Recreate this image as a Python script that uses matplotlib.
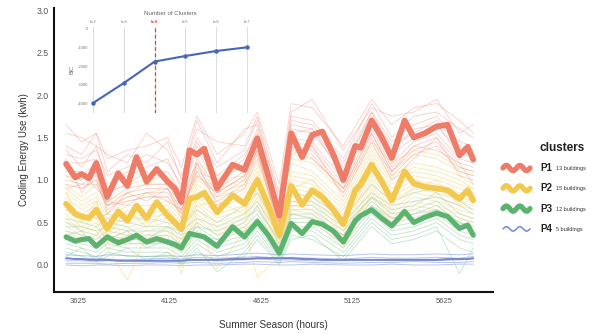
import numpy as np
import matplotlib
matplotlib.use("Agg")
import matplotlib.pyplot as plt

plt.rcParams['font.family'] = ['Liberation Sans', 'DejaVu Sans']

# ---------------- data ----------------
hours = [3560, 3610, 3645, 3685, 3725, 3785, 3845, 3895, 3945, 4000,
         4055, 4115, 4155, 4190, 4235, 4275, 4315, 4385, 4470, 4535,
         4605, 4665, 4725, 4790, 4850, 4905, 4960, 5020, 5075, 5140,
         5170, 5230, 5285, 5340, 5410, 5460, 5520, 5585, 5645, 5710,
         5755, 5785]

p1_mean = [1.19, 1.03, 1.07, 1.02, 1.20, 0.80, 1.08, 0.93, 1.27, 0.98,
           1.13, 0.98, 0.90, 0.74, 1.35, 1.30, 1.37, 0.90, 1.18, 1.12,
           1.49, 1.05, 0.58, 1.55, 1.27, 1.53, 1.57, 1.30, 1.00, 1.40,
           1.38, 1.70, 1.50, 1.26, 1.70, 1.50, 1.55, 1.63, 1.65, 1.29,
           1.39, 1.24]
p2_mean = [0.72, 0.60, 0.57, 0.55, 0.65, 0.43, 0.63, 0.52, 0.70, 0.55,
           0.74, 0.58, 0.50, 0.42, 0.78, 0.80, 0.85, 0.62, 0.82, 0.72,
           1.00, 0.70, 0.35, 0.93, 0.71, 0.88, 0.80, 0.65, 0.48, 0.88,
           0.95, 1.18, 0.98, 0.76, 1.10, 0.96, 0.92, 0.90, 0.88, 0.78,
           0.88, 0.76]
p3_mean = [0.33, 0.28, 0.30, 0.31, 0.22, 0.33, 0.26, 0.30, 0.35, 0.27,
           0.31, 0.27, 0.24, 0.20, 0.37, 0.35, 0.33, 0.22, 0.45, 0.33,
           0.51, 0.35, 0.14, 0.49, 0.37, 0.51, 0.48, 0.40, 0.27, 0.52,
           0.58, 0.65, 0.55, 0.46, 0.63, 0.50, 0.56, 0.61, 0.57, 0.43,
           0.47, 0.35]
p4_mean = [0.08, 0.07, 0.07, 0.06, 0.06, 0.06, 0.05, 0.05, 0.05, 0.05,
           0.05, 0.05, 0.05, 0.05, 0.06, 0.06, 0.06, 0.06, 0.07, 0.07,
           0.08, 0.08, 0.08, 0.08, 0.07, 0.07, 0.06, 0.06, 0.06, 0.06,
           0.06, 0.06, 0.06, 0.06, 0.06, 0.06, 0.06, 0.06, 0.07, 0.07,
           0.07, 0.08]

thin_hours = [3560, 3645, 3725, 3785, 3895, 4000, 4115, 4190, 4275, 4385,
              4535, 4605, 4725, 4790, 4905, 5075, 5230, 5340, 5460, 5585,
              5710, 5785]

p1_buildings = [
    [1.65, 1.45, 1.55, 1.25, 1.35, 1.40, 1.50, 1.15, 1.75, 1.30, 1.55, 1.80, 0.95, 1.90, 1.85, 1.40, 1.95, 1.65, 1.85, 1.90, 1.70, 1.55],
    [1.55, 1.50, 1.40, 1.30, 1.20, 1.55, 1.35, 1.05, 1.60, 1.45, 1.40, 1.75, 0.85, 1.80, 1.95, 1.35, 1.85, 1.75, 1.80, 1.95, 1.55, 1.65],
    [1.40, 1.30, 1.55, 1.10, 1.30, 1.20, 1.45, 1.00, 1.70, 1.20, 1.60, 1.65, 0.80, 1.75, 1.70, 1.25, 1.90, 1.50, 1.75, 1.80, 1.60, 1.50],
    [1.30, 1.25, 1.35, 1.05, 1.15, 1.30, 1.20, 0.95, 1.50, 1.15, 1.35, 1.70, 0.75, 1.70, 1.65, 1.20, 1.80, 1.45, 1.65, 1.75, 1.45, 1.40],
    [1.35, 1.15, 1.40, 0.95, 1.05, 1.15, 1.25, 0.90, 1.45, 1.05, 1.30, 1.55, 0.70, 1.65, 1.60, 1.15, 1.75, 1.40, 1.55, 1.70, 1.40, 1.35],
    [1.20, 1.20, 1.25, 0.90, 1.10, 1.05, 1.10, 0.85, 1.40, 1.00, 1.25, 1.60, 0.65, 1.60, 1.55, 1.10, 1.80, 1.35, 1.60, 1.65, 1.35, 1.30],
    [1.15, 1.05, 1.20, 0.85, 0.95, 1.10, 1.00, 0.80, 1.35, 0.95, 1.20, 1.50, 0.60, 1.55, 1.60, 1.05, 1.70, 1.30, 1.50, 1.65, 1.30, 1.30],
    [1.05, 1.00, 1.15, 0.75, 0.90, 0.95, 0.95, 0.70, 1.25, 0.90, 1.10, 1.45, 0.55, 1.50, 1.45, 1.00, 1.65, 1.20, 1.45, 1.55, 1.25, 1.20],
    [1.00, 0.95, 1.05, 0.70, 0.85, 0.90, 0.90, 0.65, 1.20, 0.85, 1.05, 1.40, 0.50, 1.45, 1.40, 0.95, 1.60, 1.15, 1.40, 1.50, 1.20, 1.15],
    [0.95, 0.90, 1.00, 0.65, 0.80, 0.85, 0.85, 0.62, 1.15, 0.80, 1.00, 1.35, 0.48, 1.40, 1.35, 0.90, 1.55, 1.10, 1.35, 1.45, 1.15, 1.10],
    [0.90, 0.95, 0.95, 0.70, 0.75, 0.80, 0.80, 0.60, 1.10, 0.75, 0.95, 1.30, 0.45, 1.35, 1.30, 0.85, 1.50, 1.05, 1.30, 1.40, 1.10, 1.05],
    [1.25, 0.85, 1.10, 0.60, 0.85, 0.75, 0.90, 0.55, 1.20, 0.70, 0.90, 1.25, 0.50, 1.30, 1.40, 0.80, 1.45, 1.00, 1.25, 1.50, 1.05, 1.00],
    [1.10, 1.10, 0.90, 0.75, 0.70, 0.85, 0.75, 0.65, 1.05, 0.85, 1.05, 1.35, 0.40, 1.40, 1.25, 0.90, 1.55, 1.10, 1.40, 1.35, 1.20, 0.95],
]
p2_buildings = [
    [1.15, 1.00, 1.10, 0.85, 0.95, 1.00, 1.05, 0.80, 1.20, 1.05, 1.15, 1.45, 0.70, 1.30, 1.25, 0.90, 1.45, 1.20, 1.35, 1.30, 1.15, 1.10],
    [1.05, 0.90, 1.00, 0.75, 0.85, 0.95, 0.95, 0.70, 1.10, 1.00, 1.05, 1.35, 0.65, 1.25, 1.20, 0.85, 1.40, 1.10, 1.30, 1.25, 1.10, 1.05],
    [0.95, 0.80, 0.95, 0.70, 0.80, 0.85, 0.90, 0.65, 1.05, 0.90, 1.00, 1.30, 0.60, 1.20, 1.10, 0.75, 1.35, 1.05, 1.20, 1.15, 1.05, 0.95],
    [0.90, 0.75, 0.85, 0.60, 0.75, 0.80, 0.80, 0.60, 1.00, 0.85, 0.95, 1.20, 0.55, 1.10, 1.05, 0.70, 1.30, 1.00, 1.15, 1.10, 1.00, 0.90],
    [0.85, 0.70, 0.80, 0.55, 0.70, 0.70, 0.75, 0.55, 0.95, 0.80, 0.90, 1.15, 0.50, 1.05, 1.00, 0.65, 1.25, 0.95, 1.10, 1.05, 0.95, 0.90],
    [0.80, 0.65, 0.75, 0.50, 0.60, 0.65, 0.70, 0.50, 0.90, 0.70, 0.85, 1.10, 0.45, 1.00, 0.95, 0.60, 1.20, 0.90, 1.05, 1.00, 0.90, 0.85],
    [0.75, 0.60, 0.70, 0.45, 0.55, 0.60, 0.65, 0.45, 0.85, 0.65, 0.80, 1.05, 0.40, 0.95, 0.90, 0.55, 1.15, 0.85, 1.00, 0.95, 0.85, 0.80],
    [0.70, 0.55, 0.60, 0.40, 0.50, 0.55, 0.60, 0.40, 0.80, 0.60, 0.70, 1.00, 0.35, 0.90, 0.85, 0.50, 1.10, 0.80, 0.95, 0.90, 0.80, 0.75],
    [0.65, 0.50, 0.60, 0.35, 0.45, 0.50, 0.55, 0.35, 0.75, 0.55, 0.65, 0.95, 0.30, 0.85, 0.80, 0.45, 1.05, 0.70, 0.90, 0.85, 0.75, 0.70],
    [0.60, 0.45, 0.55, 0.30, 0.40, 0.45, 0.50, 0.30, 0.70, 0.50, 0.60, 0.90, 0.25, 0.80, 0.75, 0.40, 1.00, 0.65, 0.85, 0.80, 0.70, 0.65],
    [0.55, 0.40, 0.50, 0.25, 0.35, 0.40, 0.45, 0.25, 0.65, 0.45, 0.55, 0.85, 0.20, 0.75, 0.70, 0.35, 0.95, 0.60, 0.80, 0.75, 0.65, 0.60],
    [0.50, 0.45, 0.40, 0.20, -0.18, 0.35, 0.40, 0.20, 0.60, 0.40, 0.50, 0.80, 0.15, 0.70, 0.65, 0.30, 0.90, 0.55, 0.75, 0.70, 0.60, 0.55],
    [0.45, 0.35, 0.45, 0.30, 0.30, 0.30, 0.35, -0.10, 0.55, 0.35, 0.45, -0.15, 0.10, 0.65, 0.60, 0.25, 0.85, 0.50, 0.70, 0.65, 0.55, 0.50],
    [0.40, 0.30, 0.35, 0.20, 0.25, 0.25, 0.30, 0.15, 0.50, -0.05, 0.40, 0.70, 0.10, 0.60, 0.55, 0.20, 0.80, 0.45, 0.65, 0.60, 0.50, 0.45],
    [0.85, 0.50, 0.75, 0.35, 0.65, 0.45, 0.65, 0.45, 0.70, 0.75, 0.60, 1.05, 0.30, 0.90, 1.00, 0.55, 1.10, 0.75, 0.90, 1.00, 0.70, 0.80],
]
p3_buildings = [
    [0.65, 0.60, 0.55, 0.60, 0.55, 0.55, 0.50, 0.45, 0.65, 0.50, 0.70, 0.85, 0.40, 0.85, 0.80, 0.55, 0.95, 0.75, 0.85, 0.90, 0.75, 0.65],
    [0.55, 0.50, 0.45, 0.55, 0.50, 0.45, 0.45, 0.40, 0.55, 0.45, 0.60, 0.75, 0.35, 0.75, 0.75, 0.50, 0.85, 0.70, 0.75, 0.80, 0.70, 0.60],
    [0.45, 0.45, 0.40, 0.45, 0.40, 0.40, 0.40, 0.30, 0.50, 0.35, 0.50, 0.70, 0.25, 0.65, 0.65, 0.40, 0.80, 0.60, 0.65, 0.75, 0.55, 0.50],
    [0.40, 0.35, 0.30, 0.40, 0.35, 0.35, 0.35, 0.25, 0.45, 0.30, 0.45, 0.60, 0.20, 0.60, 0.60, 0.35, 0.75, 0.55, 0.60, 0.70, 0.50, 0.45],
    [0.35, 0.30, 0.25, 0.35, 0.30, 0.30, 0.30, 0.20, 0.40, 0.25, 0.35, 0.55, 0.15, 0.55, 0.55, 0.30, 0.70, 0.50, 0.55, 0.65, 0.45, 0.40],
    [0.30, 0.25, 0.20, 0.30, 0.25, 0.25, 0.25, 0.15, 0.35, 0.20, 0.30, 0.50, 0.10, 0.50, 0.50, 0.25, 0.65, 0.45, 0.50, 0.60, 0.40, 0.35],
    [0.25, 0.20, 0.15, 0.25, 0.20, 0.20, 0.20, 0.10, 0.30, 0.15, 0.25, 0.45, 0.08, 0.45, 0.45, 0.20, 0.60, 0.40, 0.45, 0.55, 0.35, 0.30],
    [0.20, 0.15, 0.10, 0.20, 0.15, 0.15, 0.15, 0.05, 0.25, 0.10, 0.20, 0.40, 0.05, 0.40, 0.40, 0.15, 0.55, 0.35, 0.40, 0.50, 0.30, 0.25],
    [0.15, 0.10, 0.05, 0.15, 0.10, 0.10, 0.10, 0.02, 0.20, -0.08, 0.15, 0.35, 0.02, 0.35, 0.30, 0.10, 0.50, 0.30, 0.35, 0.45, -0.10, 0.20],
    [0.10, 0.20, 0.05, 0.10, 0.20, 0.05, 0.15, 0.00, 0.15, 0.05, 0.10, 0.30, 0.00, 0.30, 0.35, 0.05, 0.45, 0.25, 0.30, 0.40, 0.20, 0.15],
    [0.50, 0.40, 0.35, 0.50, 0.45, 0.30, 0.45, 0.35, 0.45, 0.40, 0.55, 0.65, 0.30, 0.70, 0.70, 0.45, 0.80, 0.65, 0.70, 0.85, 0.60, 0.55],
    [0.35, 0.40, 0.20, 0.30, 0.40, 0.20, 0.30, 0.25, 0.35, 0.30, 0.40, 0.55, 0.20, 0.60, 0.55, 0.35, 0.70, 0.55, 0.60, 0.65, 0.50, 0.40],
]
p4_buildings = [
    [0.12, 0.11, 0.10, 0.12, 0.11, 0.10, 0.11, 0.10, 0.12, 0.11, 0.13, 0.14, 0.12, 0.13, 0.12, 0.11, 0.13, 0.12, 0.12, 0.13, 0.12, 0.13],
    [0.08, 0.07, 0.08, 0.07, 0.06, 0.07, 0.08, 0.07, 0.09, 0.08, 0.09, 0.10, 0.08, 0.09, 0.08, 0.07, 0.09, 0.08, 0.08, 0.09, 0.08, 0.10],
    [0.05, 0.05, 0.04, 0.05, 0.05, 0.04, 0.05, 0.04, 0.06, 0.05, 0.06, 0.07, 0.06, 0.06, 0.05, 0.05, 0.06, 0.05, 0.06, 0.05, 0.06, 0.07],
    [0.02, 0.02, 0.02, 0.01, 0.02, 0.02, 0.03, 0.02, 0.03, 0.02, 0.03, 0.04, 0.03, 0.04, 0.03, 0.02, 0.03, 0.03, 0.04, 0.03, 0.03, 0.04],
    [0.00, -0.01, 0.00, 0.00, -0.01, 0.00, 0.00, -0.01, 0.00, 0.00, 0.01, 0.01, 0.00, 0.00, 0.01, 0.00, 0.00, 0.01, 0.00, 0.00, 0.01, 0.01],
]

cluster_names = ["P1", "P2", "P3", "P4"]
cluster_sizes = ["13 buildings", "15 buildings", "12 buildings", "5 buildings"]

x_ticks = [3625, 4125, 4625, 5125, 5625]
y_ticks = [0.0, 0.5, 1.0, 1.5, 2.0, 2.5, 3.0]

k_values = [2, 3, 4, 5, 6, 7]
k_labels = ["k=2", "k=3", "k=4", "k=5", "k=6", "k=7"]
bic_values = [-4000, -2920, -1760, -1460, -1190, -990]
bic_ticks = [0, -1000, -2000, -3000, -4000]
best_k = 4

# ---------------- styles ----------------
thick_colors = ["#EF7B69", "#F3C84F", "#5BB36F", "#7388CF"]
thin_colors = ["#F29A8C", "#F5D372", "#82C796", "#8A9DDA"]
thick_widths = [4.2, 4.2, 3.7, 1.4]
thin_alpha = [0.42, 0.48, 0.42, 0.6]

W, H = 597, 334
fig = plt.figure(figsize=(W / 100, H / 100), dpi=100)

# main axes
ax = fig.add_axes([54 / W, 1 - 292 / H, (493 - 54) / W, (292 - 8) / H])
ax.set_xlim(3494, 5893)
ax.set_ylim(-0.318, 3.024)

all_thin = [p1_buildings, p2_buildings, p3_buildings, p4_buildings]
all_mean = [p1_mean, p2_mean, p3_mean, p4_mean]

for ci in [3, 2, 1, 0]:
    for line in all_thin[ci]:
        ax.plot(thin_hours, line, color=thin_colors[ci], lw=0.7,
                alpha=thin_alpha[ci], solid_joinstyle='round', zorder=2)
for ci in [3, 2, 1, 0]:
    ax.plot(hours, all_mean[ci], color=thick_colors[ci], lw=thick_widths[ci],
            solid_joinstyle='round', solid_capstyle='round', zorder=4)

for s in ['top', 'right']:
    ax.spines[s].set_visible(False)
for s in ['left', 'bottom']:
    ax.spines[s].set_linewidth(1.5)
    ax.spines[s].set_color('#111111')
ax.set_xticks(x_ticks)
ax.set_xticklabels([str(v) for v in x_ticks])
ax.set_yticks(y_ticks)
ax.set_yticklabels([f"{v:.1f}" for v in y_ticks])
ax.tick_params(axis='both', length=0, colors='#555555')
ax.tick_params(axis='x', labelsize=5.5, pad=4)
ax.tick_params(axis='y', labelsize=6.3, pad=4)
ax.set_ylabel("Cooling Energy Use (kwh)", fontsize=7, color='#333333', labelpad=5)
ax.set_xlabel("Summer Season (hours)", fontsize=7.2, color='#333333', labelpad=11)
ax.patch.set_alpha(0)

# inset BIC chart
ins = fig.add_axes([90 / W, 1 - 113 / H, 160 / W, 86 / H])
ins.patch.set_alpha(0)
ins.set_xlim(1.9, 7.1)
ins.set_ylim(-4540, 108)
for k in k_values:
    ins.axvline(k, color='#dddddd', lw=0.7, zorder=1)
ins.axvline(best_k, color='#E0403A', lw=0.9, ls=(0, (3, 2)), zorder=2)
ins.plot(k_values, bic_values, color='#4466BB', lw=1.5, marker='o', ms=2.2, zorder=3)
for s in ins.spines.values():
    s.set_visible(False)
ins.xaxis.tick_top()
ins.set_xticks(k_values)
ins.set_xticklabels(k_labels)
ins.set_yticks(bic_ticks)
ins.set_yticklabels([str(v) for v in bic_ticks])
ins.tick_params(length=0, labelsize=3, colors='#777777', pad=1)
ins.tick_params(axis='x', pad=2)
for lbl, k in zip(ins.get_xticklabels(), k_values):
    if k == best_k:
        lbl.set_color('#E0403A')
        lbl.set_fontweight('bold')
ins.xaxis.set_label_position('top')
ins.set_xlabel("Number of Clusters", fontsize=4.4, color='#666666', labelpad=4)
ins.set_ylabel("BIC", fontsize=4, color='#666666', labelpad=3)

# legend
lg = fig.add_axes([495 / W, 1 - 245 / H, 102 / W, 120 / H])
lg.set_xlim(495, 597)
lg.set_ylim(245, 125)
lg.axis('off')
lg.text(562, 148, "clusters", fontsize=8.5, fontweight='bold', color='#222222',
        ha='center', va='center')
t = np.linspace(0, 1, 80)
for i, (name, size) in enumerate(zip(cluster_names, cluster_sizes)):
    yc = 168 + 20.3 * i
    amp = 2.6 if i < 3 else 2.2
    lg.plot(503 + 27 * t, yc - amp * np.sin(2 * np.pi * 2 * t),
            color=thick_colors[i], lw=(3.8 if i < 3 else 1.1),
            solid_capstyle='round')
    lg.text(540, yc, name, fontsize=7, fontweight='bold', color='#222222',
            ha='left', va='center')
    lg.text(555.5, yc + 0.6, size, fontsize=4, color='#333333',
            ha='left', va='center')

fig.savefig("out.png", dpi=100)
